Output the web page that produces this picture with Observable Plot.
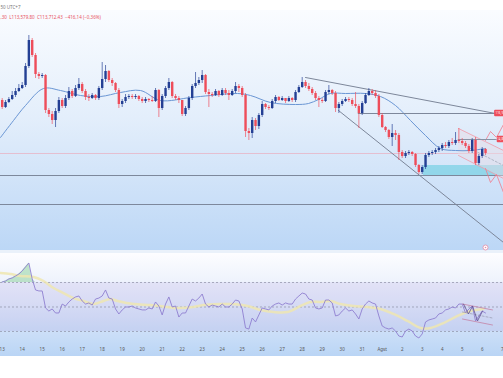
<!DOCTYPE html>
<html><head><meta charset="utf-8">
<script src="https://cdn.jsdelivr.net/npm/d3@7"></script>
<script src="https://cdn.jsdelivr.net/npm/@observablehq/plot@0.6"></script>
<style>
html,body{margin:0;padding:0;background:#fff;width:503px;height:378px;overflow:hidden;font-family:Roboto,"Liberation Sans",sans-serif}
#mainbg{position:absolute;left:0;top:10px;width:503px;height:240px;background:linear-gradient(to bottom,#fafcff 0%,#e3eefb 45%,#bcd7f6 100%)}
#sep{position:absolute;left:0;top:250px;width:503px;height:3px;background:#eaf1fa}
#rsibg{position:absolute;left:0;top:253px;width:503px;height:103px;background:linear-gradient(to bottom,#fdfdff 0%,#e4ecfb 45%,#bad5f5 100%)}
#main{position:absolute;left:0;top:0}
#rsi{position:absolute;left:0;top:253px}
</style></head>
<body>
<div id="mainbg"></div><div id="sep"></div><div id="rsibg"></div>
<div id="main"></div><div id="rsi"></div>
<script>
// ---- data (BTC 4h candles, 13 Jul - 6 Aug, prices in USD) ----
const firstOpen = 118000;
const closes = [117440,117840,118080,118400,118720,118960,119200,120720,122800,121600,
120080,119920,120000,117200,116880,116400,117120,118000,117520,118160,
118720,118320,118960,119280,118720,118240,118160,118400,118160,118960,
119680,120320,119600,119360,118800,117680,117920,118240,118320,118240,
118320,118080,117920,118080,118000,117920,118800,117360,118320,118960,
119440,118320,118160,118000,116880,117360,118160,119120,119360,119600,
120000,118640,118480,118400,118720,118400,118800,118560,118400,118720,
119120,118960,118400,115520,115360,116400,115920,116800,117680,117440,
117360,117920,118240,118000,118160,117920,118160,118000,118640,119040,
119440,119120,118880,118560,118160,118000,117920,118640,118800,118560,
117360,117680,117920,118080,118000,117680,117520,116960,117760,118400,
118720,118560,118320,116800,115840,115600,115040,115360,115200,113840,
113520,113760,113840,113680,112800,112240,112640,113600,113760,113840,
114000,114160,114400,114320,114640,114560,114800,114720,114560,114320,
113920,114800,112960,113520,114080,113760];
const highs = [118160,118000,118240,118720,118960,119280,119440,120960,123200,122960,
121760,120240,120160,120080,117360,117120,117360,118240,118160,118400,
119040,118880,119200,119760,119440,118880,118480,118560,118480,119120,
121040,120800,120400,119760,119440,118960,118080,118480,118480,118480,
118480,118400,118240,118240,118160,118320,118960,118880,118480,119120,
119760,119520,118480,118320,118000,117520,118320,119280,120240,119840,
120400,120080,118880,118640,118880,118800,118960,118960,118800,118880,
119440,119280,119120,118560,115760,116640,116560,116960,117920,117760,
117600,118080,118400,118320,118320,118160,118320,118240,118800,119200,
119840,119600,119360,119040,118720,118320,118160,118800,119200,118880,
118720,117840,118080,118240,118240,118160,118640,117680,117920,118560,
118960,118880,118800,118480,116960,115920,115680,116080,115600,115360,
114000,113920,114000,113920,113760,112880,112800,113760,113920,114000,
114160,114320,114560,114640,114800,114960,115440,115760,114960,114720,
114480,114960,115040,113680,114240,114160];
const lows = [117280,117360,117760,118000,118240,118640,118880,119040,120560,121440,
119760,119680,119760,116960,116640,116080,115840,116960,117360,117360,
118000,118160,118240,118800,118560,118000,117920,118080,118000,118000,
118800,119440,119440,119120,118640,117360,117440,117760,118080,118080,
118080,117920,117760,117760,117840,117840,117840,116640,117200,118160,
118800,118160,118000,117760,116720,116720,117200,118000,118960,119200,
119360,118480,117440,118240,118320,118240,118320,118400,118000,118320,
118560,118640,118240,115040,114800,114960,115600,115680,116640,117280,
117200,117280,117760,117920,117920,117760,117840,117840,117840,118560,
118960,118960,118720,118400,118000,117440,117760,117840,118480,118400,
117040,116960,117520,117840,117840,117520,117360,115760,116800,117680,
118320,118400,118160,116640,115760,115440,114880,114320,114800,113200,
113360,113360,113600,113520,112640,112080,112080,112480,113440,113600,
113680,113840,113920,114160,114160,114400,114400,114560,114400,114160,
113760,113760,112800,112800,113360,113600];
const rsiValues = [70.4,71.2,72.9,73.7,75.3,76.9,79.4,82.7,85.9,72.9,
63.9,63.1,63.1,49.2,46.7,48.4,45.1,45.1,52.4,50.8,
54.1,56.5,58.2,59.0,54.9,52.4,53.3,51.6,56.5,57.3,
59.0,63.9,57.3,56.5,48.4,44.3,47.6,50.0,50.0,50.8,
49.2,48.4,47.6,47.6,49.2,48.4,54.1,50.8,43.5,52.4,
58.2,50.0,50.8,41.8,45.1,45.1,50.8,56.5,54.9,57.3,
60.6,52.4,50.0,51.6,50.8,50.0,52.4,50.0,50.0,52.4,
55.7,54.9,48.4,32.9,32.0,41.0,37.8,43.5,49.2,48.4,
47.6,50.8,52.4,53.3,51.6,53.3,52.4,52.4,56.5,59.0,
61.4,60.6,56.5,55.7,49.2,48.4,49.2,55.7,55.7,53.3,
42.7,43.5,46.7,49.2,46.7,47.6,44.3,40.2,48.4,52.4,
54.9,53.3,52.4,42.7,34.5,32.9,32.0,32.9,30.4,26.3,
25.5,30.4,32.0,30.4,26.3,24.7,28.0,37.8,39.4,40.2,
41.0,44.3,45.1,47.6,48.4,50.0,49.2,52.4,52.4,45.1,
48.4,50.8,38.6,42.7,46.7,45.1];
// moving average on price (days since 13 Jul)
const maDays = [-0.085,0.565,1.165,2.065,2.915,3.915,4.915,5.915,6.915,7.915,9.415,10.415,11.765,12.415,13.415,14.665,15.315,15.815,16.415,17.165,18.165,18.915,19.665,20.415,21.165,21.915,22.665,23.415,24.165];
const maPrices = [115040,116400,117600,118960,118800,118400,118320,118640,118800,118000,118240,118400,118560,118400,117840,117680,117760,118080,118560,118560,118560,118320,117600,116400,115200,114160,114000,114000,114160];
// RSI-based MA
const rsiMaDays = [-0.085,0.415,0.915,1.565,2.065,2.565,3.065,3.565,4.065,4.565,5.065,5.415,5.765,6.565,7.415,8.265,8.765,9.565,10.065,10.915,11.565,12.265,12.915,13.565,14.265,14.915,15.415,15.915,16.415,16.915,17.565,18.265,18.915,19.565,20.265,20.915,21.415,22.065,22.765,23.415,24.065];
const rsiMaValues = [77.8,76.9,75.3,74.5,71.2,65.5,61.4,57.3,54.9,52.4,54.9,56.5,54.9,52.4,51.6,50.0,49.2,50.0,51.6,52.4,52.4,50.8,47.6,45.9,45.9,50.8,54.1,54.1,54.9,52.4,50.8,50.0,48.4,44.3,38.6,32.9,32.9,36.9,42.7,46.7,48.4];
// drawings
const upperTrendDays = [15.165, 24.665], upperTrendPrices = [119840, 116960];
const lowerTrendDays = [16.815, 25.065], lowerTrendPrices = [117200, 106640];
const resistDays = [17.8, 24.665], resistPrice = 116960;
const level2Days = [22.8, 24.765], level2Price = 114880;
const supportLevels = [112000, 109680];
const zoneDays = [21.065, 25.065], zonePrices = [112000, 112800];
const chanUpperDays = [22.815, 25.065], chanUpperPrices = [115760, 114000];
const chanLowerDays = [22.815, 25.065], chanLowerPrices = [113600, 111760];
const chanMidDays = [23.415, 25.065], chanMidPrices = [114160, 112800];
const zigUpDays = [24.165, 24.415, 24.715, 25.065], zigUpPrices = [114800, 115520, 115040, 116080];
const zigDnDays = [24.165, 24.415, 24.715, 25.065], zigDnPrices = [112560, 111440, 112080, 110640];
const priceLabels = [116960, 114880];
const priceLabelTexts = ["116,9", "114,8"];
const rsiChanDays = [23.015, 24.515];
const rsiChanUpper = [52.4, 47.6], rsiChanLower = [40.2, 35.3], rsiChanMid = [45.9, 41.0];
const rsiZigDays = [23.065, 23.315, 23.515, 23.765, 24.015], rsiZigValues = [52.4, 44.3, 50.8, 38.6, 46.7];
const tickLabels = ["13","14","15","16","17","18","19","20","21","22","23","24","25","26","27","28","29","30","31","Agst","2","3","4","5","6","7"];
const header1 = "50 UTC+7";
const header2 = ",30  L113,579.80  C113,712.43  −416,14 (−0,36%)";

// ---- build ----
const t0 = Date.UTC(2025, 6, 13);
const DAY = 864e5, H4 = 4 * 3600e3;
const day = d => new Date(t0 + d * DAY);
const xDomain = [day(-0.085), day(25.065)];
const UP = "#233f94", DOWN = "#ee4d5a";
const candles = closes.map((c, i) => {
  const o = i ? closes[i - 1] : firstOpen;
  return {t: new Date(t0 + i * H4), o, c, h: Math.max(highs[i], o, c), l: Math.min(lows[i], o, c)};
});
candles.forEach(d => { d.c2 = Math.abs(d.o - d.c) < 60 ? d.o - 60 : d.c; });
const seg = (days, vals) => days.map((d, i) => ({t: day(d), v: vals[i]}));
const rsiData = rsiValues.map((r, i) => ({t: new Date(t0 + i * H4), r}));
const last = candles[candles.length - 1];

const main = Plot.plot({
  width: 503, height: 250, marginTop: 10, marginBottom: 0, marginLeft: 0, marginRight: 0,
  style: {background: "transparent", overflow: "visible"},
  x: {type: "utc", domain: xDomain, axis: null},
  y: {domain: [106000, 125200], axis: null},
  marks: [
    Plot.rect([0], {x1: () => day(zoneDays[0]), x2: () => day(zoneDays[1]), y1: () => zonePrices[0], y2: () => zonePrices[1], fill: "#86d3e8", fillOpacity: 0.85}),
    Plot.ruleY(supportLevels, {stroke: "#7d889c", strokeWidth: 1.2}),
    Plot.ruleY([last.c], {stroke: "#e7b4c6", strokeWidth: 1, strokeOpacity: 0.8}),
    Plot.areaY(chanUpperDays.map((d, i) => ({t: day(d), a: chanLowerPrices[i], b: chanUpperPrices[i]})), {x: "t", y1: "a", y2: "b", fill: "#e9dce4", fillOpacity: 0.45}),
    Plot.line(seg(chanUpperDays, chanUpperPrices), {x: "t", y: "v", stroke: "#f09aa8", strokeWidth: 0.8}),
    Plot.line(seg(chanLowerDays, chanLowerPrices), {x: "t", y: "v", stroke: "#f09aa8", strokeWidth: 0.8}),
    Plot.line(seg(chanMidDays, chanMidPrices), {x: "t", y: "v", stroke: "#9aa3b3", strokeWidth: 0.7, strokeDasharray: "2,2"}),
    Plot.line(seg(zigUpDays, zigUpPrices), {x: "t", y: "v", stroke: "#f07a8c", strokeWidth: 0.8}),
    Plot.line(seg(zigDnDays, zigDnPrices), {x: "t", y: "v", stroke: "#f07a8c", strokeWidth: 0.8}),
    Plot.line(seg(maDays, maPrices), {x: "t", y: "v", stroke: "#6a96d4", strokeWidth: 1, curve: "catmull-rom"}),
    Plot.line(seg(upperTrendDays, upperTrendPrices), {x: "t", y: "v", stroke: "#7d879a", strokeWidth: 1}),
    Plot.line(seg(lowerTrendDays, lowerTrendPrices), {x: "t", y: "v", stroke: "#7d879a", strokeWidth: 1}),
    Plot.line(seg(resistDays, [resistPrice, resistPrice]), {x: "t", y: "v", stroke: "#7d879a", strokeWidth: 1}),
    Plot.line(seg(level2Days, [level2Price, level2Price]), {x: "t", y: "v", stroke: "#8a93a5", strokeWidth: 1}),
    Plot.ruleX(candles, {x: "t", y1: "l", y2: "h", stroke: d => d.c <= d.o ? DOWN : UP, strokeWidth: 0.8, strokeOpacity: 0.85}),
    Plot.ruleX(candles, {x: "t", y1: "o", y2: "c2", stroke: d => d.c <= d.o ? DOWN : UP, strokeWidth: 2.4}),
    Plot.rect(priceLabels, {x1: (d, i) => day(i ? 24.75 : 24.62), x2: () => day(25.3), y1: d => d - 260, y2: d => d + 260, fill: DOWN, rx: 1}),
    Plot.text(priceLabels, {x: () => day(25.045), y: d => d, text: (d, i) => priceLabelTexts[i], textAnchor: "end", fill: "white", fontSize: 3}),
    Plot.dot([0], {x: () => day(24.165), y: () => 106240, r: 2.5, stroke: "#e58aa6", fill: "white", strokeWidth: 0.8}),
    Plot.dot([0], {x: () => day(24.165), y: () => 106240, r: 0.8, fill: "#e58aa6"}),
    Plot.text([header1], {frameAnchor: "top-left", dy: -5, textAnchor: "start", fill: "#777", fontSize: 4.5, text: d => d}),
    Plot.text([header2], {frameAnchor: "top-left", dy: 5, textAnchor: "start", fill: "#e8505e", fontSize: 4.5, text: d => d})
  ]
});
document.getElementById("main").append(main);

const tickDates = tickLabels.map((_, k) => day(k));
const rsi = Plot.plot({
  width: 503, height: 103, marginTop: 0, marginBottom: 0, marginLeft: 0, marginRight: 0,
  style: {background: "transparent", overflow: "visible"},
  x: {type: "utc", domain: xDomain, axis: null},
  y: {domain: [9.59, 93.67], axis: null},
  marks: [
    Plot.rect([0], {x1: () => xDomain[0], x2: () => xDomain[1], y1: () => 30, y2: () => 70, fill: "#7e57c2", fillOpacity: 0.1}),
    Plot.ruleY([70, 50, 30], {stroke: "#8d8fa3", strokeWidth: 0.7, strokeDasharray: "2,2"}),
    Plot.areaY(rsiData.slice(0, 11), {x: "t", y1: () => 70, y2: d => Math.max(70, d.r), fill: "#5cbf6a", fillOpacity: 0.35}),
    Plot.line(seg(rsiMaDays, rsiMaValues), {x: "t", y: "v", stroke: "#efe6b0", strokeWidth: 2.5, strokeOpacity: 0.85, curve: "catmull-rom"}),
    Plot.line(rsiData, {x: "t", y: "r", stroke: "#8f7fd0", strokeWidth: 0.9}),
    Plot.line(seg(rsiChanDays, rsiChanUpper), {x: "t", y: "v", stroke: "#c483a6", strokeWidth: 0.8}),
    Plot.line(seg(rsiChanDays, rsiChanLower), {x: "t", y: "v", stroke: "#c483a6", strokeWidth: 0.8}),
    Plot.line(seg(rsiChanDays, rsiChanMid), {x: "t", y: "v", stroke: "#8d8fa3", strokeWidth: 0.6, strokeDasharray: "2,2"}),
    Plot.line(seg(rsiZigDays, rsiZigValues), {x: "t", y: "v", stroke: "#5d4d8f", strokeWidth: 0.8}),
    Plot.text(tickLabels, {x: tickDates, frameAnchor: "bottom", dy: -6, fill: "#555", fontSize: 4.5, fontWeight: d => d === "Agst" ? "bold" : "normal"})
  ]
});
document.getElementById("rsi").append(rsi);
</script>
</body></html>
